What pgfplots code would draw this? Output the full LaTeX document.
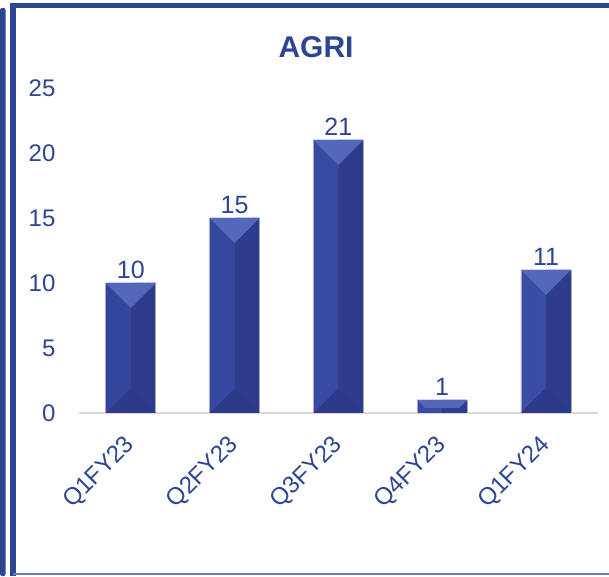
\documentclass[border=0pt]{standalone}
\usepackage{pgfplots}
\pgfplotsset{compat=1.18}
\usepackage{fontspec}
\setmainfont{Liberation Sans}

\definecolor{navy}{HTML}{2E4593}
\definecolor{barleft}{HTML}{3B4DA5}
\definecolor{barleftedge}{HTML}{34469C}
\definecolor{barright}{HTML}{2D3C8D}
\definecolor{bartop}{HTML}{5567BB}
\definecolor{barbottom}{HTML}{2B3A89}
\definecolor{baredge}{HTML}{A3AACB}
\definecolor{basegray}{HTML}{D9D9D9}

% light bevel on the top face of each bar
\pgfdeclareplotmark{bevtop}{%
  \pgfpathmoveto{\pgfpoint{-25pt}{0pt}}%
  \pgfpathlineto{\pgfpoint{25pt}{0pt}}%
  \pgfpathlineto{\pgfpoint{0pt}{-25pt}}%
  \pgfpathclose
  \pgfusepathqfill}
% the same bevel cut short for a low bar
\pgfdeclareplotmark{bevtrap}{%
  \pgfpathmoveto{\pgfpoint{-25pt}{0pt}}%
  \pgfpathlineto{\pgfpoint{25pt}{0pt}}%
  \pgfpathlineto{\pgfpoint{17pt}{-8pt}}%
  \pgfpathlineto{\pgfpoint{-17pt}{-8pt}}%
  \pgfpathclose
  \pgfusepathqfill}
% darker bevel at the foot of each bar
\pgfdeclareplotmark{bevbot}{%
  \pgfpathmoveto{\pgfpoint{-25pt}{0pt}}%
  \pgfpathlineto{\pgfpoint{25pt}{0pt}}%
  \pgfpathlineto{\pgfpoint{0pt}{25pt}}%
  \pgfpathclose
  \pgfusepathqfill}

\pgfplotstableread{
x  y
0  10
1  15
2  21
3  1
4  11
}\agri

\begin{document}
\begin{tikzpicture}[x=1pt,y=1pt]
\path[use as bounding box] (0,0) rectangle (609,576);
% frame
\fill[navy, rounded corners=2pt] (0,0) rectangle (5.5,568);
\draw[navy, line width=5.5pt] (13,0) -- (13,570.5) -- (609,570.5);
\draw[navy!70, line width=1.5pt] (13,2) -- (609,2);

\node[font=\fontsize{30}{30}\selectfont\bfseries, text=navy] at (316,529) {AGRI};

\begin{axis}[
  at={(126,125.4)}, anchor=origin,
  scale only axis, width=519pt, height=325pt,
  xmin=-0.5, xmax=4.5, ymin=0, ymax=25,
  axis x line*=bottom, axis y line*=left,
  x axis line style={draw=basegray, line width=1.2pt, -},
  y axis line style={draw=none},
  xtick={0,1,2,3,4},
  xticklabels={Q1FY23,Q2FY23,Q3FY23,Q4FY23,Q1FY24},
  ytick={0,5,10,15,20,25},
  major tick length=0pt,
  tick label style={font=\fontsize{24}{24}\selectfont, text=navy},
  xticklabel style={rotate=45, anchor=north east, xshift=-16.4pt, yshift=-6.1pt},
  yticklabel style={anchor=east, xshift=-20pt},
  /pgf/number format/assume math mode=true,
]
% left half of each bar (full bar underneath)
\addplot[ybar, bar width=50pt, draw=none,
  left color=barleftedge, right color=barleft,
  nodes near coords,
  every node near coord/.append style={font=\fontsize{25}{25}\selectfont, text=navy, yshift=1pt},
] table[x=x, y=y] {\agri};
% darker right half
\addplot[ybar, bar width=25pt, bar shift=12.5pt, draw=none, fill=barright]
  table[x=x, y=y] {\agri};
% bevels at foot and top
\addplot[only marks, mark=bevbot, mark options={fill=barbottom, draw=none}]
  coordinates {(0,0) (1,0) (2,0) (4,0)};
\addplot[only marks, mark=bevtop, mark options={fill=bartop, draw=none}]
  coordinates {(0,10) (1,15) (2,21) (4,11)};
\addplot[only marks, mark=bevtrap, mark options={fill=bartop, draw=none}]
  coordinates {(3,1)};
% thin outline
\addplot[ybar, bar width=50pt, draw=baredge, line width=0.8pt, fill=none]
  table[x=x, y=y] {\agri};
\end{axis}
\end{tikzpicture}
\end{document}
